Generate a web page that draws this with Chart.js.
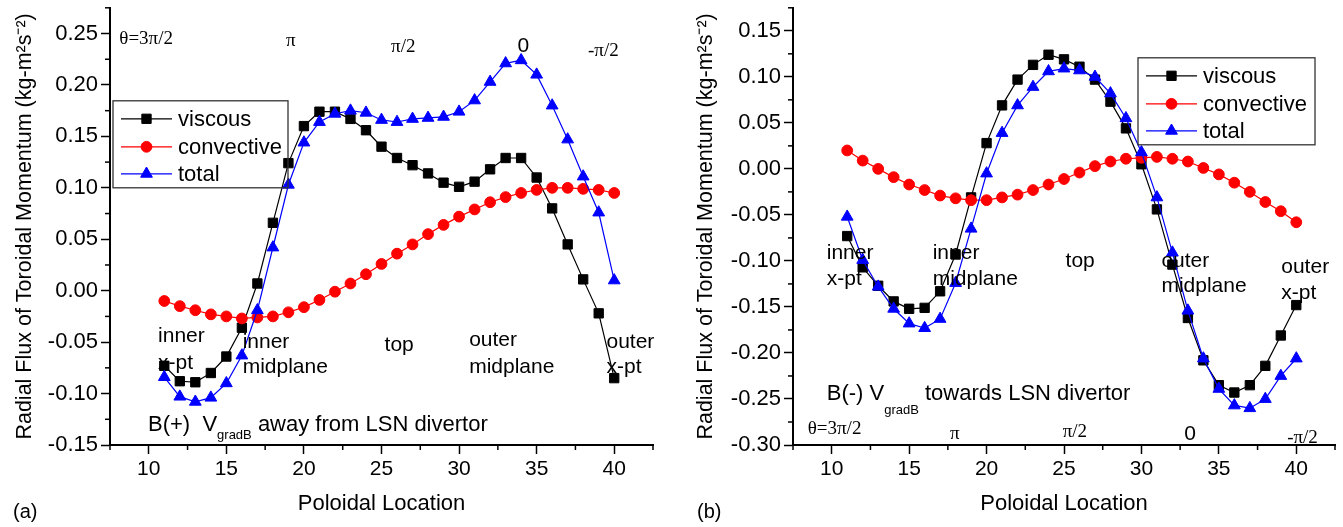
<!DOCTYPE html>
<html>
<head>
<meta charset="utf-8">
<script src="https://cdn.jsdelivr.net/npm/chart.js"></script>
<style>
  html, body { margin: 0; padding: 0; background: #fff; }
  body { width: 1343px; height: 527px; position: relative; overflow: hidden; }
  canvas { position: absolute; top: 0; }
  #chartA { left: 0; }
  #chartB { left: 672px; }
</style>
</head>
<body>
<canvas id="chartA" width="672" height="527"></canvas>
<canvas id="chartB" width="671" height="527"></canvas>
<script>
// poloidal cell index (x)
const poloidal = [11, 12, 13, 14, 15, 16, 17, 18, 19, 20, 21, 22, 23, 24, 25,
                  26, 27, 28, 29, 30, 31, 32, 33, 34, 35, 36, 37, 38, 39, 40];

// (a) B(+)
const viscousA = [-0.073, -0.088, -0.089, -0.080, -0.064, -0.036, 0.007, 0.066, 0.124, 0.160,
                  0.174, 0.174, 0.167, 0.156, 0.140, 0.129, 0.122, 0.114, 0.105, 0.101,
                  0.106, 0.118, 0.129, 0.129, 0.110, 0.080, 0.045, 0.011, -0.022, -0.085];
const convectiveA = [-0.010, -0.015, -0.019, -0.023, -0.025, -0.027, -0.026, -0.025, -0.021, -0.016,
                     -0.009, -0.001, 0.007, 0.016, 0.026, 0.036, 0.045, 0.055, 0.064, 0.072,
                     0.079, 0.086, 0.091, 0.095, 0.098, 0.100, 0.100, 0.099, 0.098, 0.095];
const totalA = [-0.084, -0.103, -0.108, -0.104, -0.090, -0.063, -0.019, 0.042, 0.103, 0.144,
                0.164, 0.172, 0.175, 0.173, 0.166, 0.164, 0.167, 0.168, 0.169, 0.174,
                0.185, 0.203, 0.221, 0.224, 0.210, 0.180, 0.147, 0.111, 0.076, 0.010];

// (b) B(-)
const viscousB = [-0.073, -0.107, -0.127, -0.144, -0.152, -0.151, -0.133, -0.093, -0.031, 0.028,
                  0.069, 0.097, 0.113, 0.124, 0.119, 0.111, 0.097, 0.073, 0.044, 0.005,
                  -0.044, -0.104, -0.162, -0.208, -0.235, -0.243, -0.235, -0.214, -0.181, -0.148];
const convectiveB = [0.020, 0.009, 0.000, -0.009, -0.017, -0.023, -0.029, -0.032, -0.034, -0.034,
                     -0.031, -0.028, -0.023, -0.017, -0.011, -0.004, 0.003, 0.008, 0.011, 0.012,
                     0.013, 0.011, 0.008, 0.001, -0.006, -0.015, -0.025, -0.036, -0.046, -0.058];
const totalB = [-0.052, -0.099, -0.128, -0.152, -0.168, -0.173, -0.163, -0.124, -0.065, -0.005,
                0.039, 0.069, 0.089, 0.106, 0.109, 0.107, 0.100, 0.082, 0.055, 0.018,
                -0.031, -0.091, -0.154, -0.206, -0.239, -0.257, -0.260, -0.250, -0.225, -0.206];

// tick labels
const xTicks = [10, 15, 20, 25, 30, 35, 40];
const yTicksA = [-0.15, -0.10, -0.05, 0.00, 0.05, 0.10, 0.15, 0.20, 0.25];
const yTicksB = [-0.30, -0.25, -0.20, -0.15, -0.10, -0.05, 0.00, 0.05, 0.10, 0.15];

const SANS = '"Liberation Sans", Arial, sans-serif';
const SERIF = '"Liberation Serif", "Times New Roman", serif';
Chart.defaults.font.family = SANS;
Chart.defaults.color = '#000';

function points(ys) {
    return poloidal.map((x, i) => ({ x: x, y: ys[i] }));
}

function makeDatasets(v, c, t) {
    return [
        { label: 'viscous', data: points(v), borderColor: '#000', backgroundColor: '#000',
          pointStyle: 'rect', pointRadius: 6.6, pointBorderWidth: 1, borderWidth: 1.2, order: 3 },
        { label: 'convective', data: points(c), borderColor: '#ff0000', backgroundColor: '#ff0000',
          pointStyle: 'circle', pointRadius: 5.4, pointBorderWidth: 1, borderWidth: 1.2, order: 2 },
        { label: 'total', data: points(t), borderColor: '#0000ff', backgroundColor: '#0000ff',
          pointStyle: 'triangle', pointRadius: 6.8, pointBorderWidth: 1, borderWidth: 1.2, order: 1 }
    ];
}

function makeScales(yMin, yMax, yTicks, yWidth, yTitlePad) {
    return {
        x: {
            type: 'linear', min: 7.5, max: 42.5,
            afterBuildTicks: s => { s.ticks = xTicks.map(v => ({ value: v })); },
            afterFit: s => { s.height = 82; s.paddingLeft = 0; s.paddingRight = 0; },
            grid: { drawOnChartArea: false, drawTicks: true, tickLength: 9, tickWidth: 1.5, color: '#000' },
            border: { display: true, color: '#000', width: 2 },
            ticks: { font: { size: 21 }, padding: 3, color: '#000', maxRotation: 0, autoSkip: false,
                     callback: v => String(v) },
            title: { display: true, text: 'Poloidal Location', font: { size: 22 }, color: '#000',
                     padding: { top: 0, bottom: 10 } }
        },
        y: {
            type: 'linear', min: yMin, max: yMax,
            afterBuildTicks: s => { s.ticks = yTicks.map(v => ({ value: v })); },
            afterFit: s => { s.width = yWidth; s.paddingTop = 0; s.paddingBottom = 0; },
            grid: { drawOnChartArea: false, drawTicks: true, tickLength: 9, tickWidth: 1.5, color: '#000' },
            border: { display: true, color: '#000', width: 2 },
            ticks: { font: { size: 22 }, padding: 3, color: '#000', autoSkip: false,
                     callback: v => v.toFixed(2) },
            title: { display: true, text: 'Radial Flux of Toroidal Momentum (kg-m\u00b2s\u207b\u00b2)',
                     font: { size: 21.5 }, color: '#000', padding: { top: yTitlePad, bottom: 0 } }
        }
    };
}

function minorTicks(major, lo, hi) {
    const step = major[1] - major[0];
    const out = [major[0] - step / 2].concat(major.map(v => v + step / 2));
    return out.filter(v => v >= lo - 1e-9 && v <= hi + 1e-9);
}

function drawMarker(ctx, style, x, y, r, color) {
    ctx.fillStyle = color;
    ctx.strokeStyle = color;
    ctx.lineWidth = 1;
    if (Chart.helpers && Chart.helpers.drawPoint) {
        Chart.helpers.drawPoint(ctx, { pointStyle: style, radius: r, borderWidth: 1, rotation: 0 }, x, y);
        return;
    }
    ctx.beginPath();
    if (style === 'rect') {
        const s = r * Math.SQRT1_2;
        ctx.rect(x - s, y - s, 2 * s, 2 * s);
    } else if (style === 'circle') {
        ctx.arc(x, y, r, 0, Math.PI * 2);
    } else {
        ctx.moveTo(x, y - r);
        ctx.lineTo(x + r * 0.866, y + r / 2);
        ctx.lineTo(x - r * 0.866, y + r / 2);
        ctx.closePath();
    }
    ctx.fill();
    ctx.stroke();
}

// texts, minor ticks and legend drawn over the chart
function overlay(cfg) {
    return {
        id: 'overlay' + cfg.name,
        afterDraw(chart) {
            const ctx = chart.ctx;
            const xs = chart.scales.x, ys = chart.scales.y;
            const area = chart.chartArea;
            ctx.save();

            // minor ticks
            ctx.strokeStyle = '#000';
            ctx.lineWidth = 1.5;
            minorTicks(xTicks, xs.min, xs.max).forEach(v => {
                const px = xs.getPixelForValue(v);
                ctx.beginPath(); ctx.moveTo(px, area.bottom); ctx.lineTo(px, area.bottom + 5); ctx.stroke();
            });
            minorTicks(cfg.yTicks, ys.min, ys.max).forEach(v => {
                const py = ys.getPixelForValue(v);
                ctx.beginPath(); ctx.moveTo(area.left, py); ctx.lineTo(area.left - 5, py); ctx.stroke();
            });

            // annotations
            ctx.textBaseline = 'middle';
            ctx.fillStyle = '#000';
            cfg.labels.forEach(l => {
                ctx.font = (l.size || 21) + 'px ' + (l.serif ? SERIF : SANS);
                ctx.textAlign = l.align || 'left';
                ctx.fillText(l.text, xs.getPixelForValue(l.x), ys.getPixelForValue(l.y));
            });

            // field direction caption with subscript
            const cap = cfg.caption;
            let cx = xs.getPixelForValue(cap.x);
            const cy = ys.getPixelForValue(cap.y);
            ctx.textAlign = 'left';
            ctx.textBaseline = 'alphabetic';
            cap.parts.forEach(p => {
                ctx.font = p.size + 'px ' + SANS;
                ctx.fillText(p.text, cx, cy + (p.dy || 0));
                cx += ctx.measureText(p.text).width;
            });

            // legend
            const L = cfg.legend;
            const bx = L.right !== undefined ? area.right - L.right - L.w : area.left + L.left;
            const by = area.top + L.top;
            ctx.lineWidth = 1.3;
            ctx.strokeStyle = '#333';
            ctx.strokeRect(bx, by, L.w, L.h);
            chart.data.datasets.forEach((ds, i) => {
                const ry = by + L.rows[i];
                ctx.strokeStyle = ds.borderColor;
                ctx.lineWidth = 1.2;
                ctx.beginPath(); ctx.moveTo(bx + 8, ry); ctx.lineTo(bx + 59, ry); ctx.stroke();
                drawMarker(ctx, ds.pointStyle, bx + 33.5, ry, ds.pointRadius, ds.backgroundColor);
                ctx.fillStyle = '#000';
                ctx.font = '22px ' + SANS;
                ctx.textAlign = 'left';
                ctx.textBaseline = 'middle';
                ctx.fillText(ds.label, bx + 65, ry + 1);
            });

            // panel letter
            ctx.font = '20px ' + SANS;
            ctx.fillStyle = '#000';
            ctx.textAlign = 'left';
            ctx.textBaseline = 'middle';
            ctx.fillText(cfg.letter, cfg.letterX, 512);

            ctx.restore();
        }
    };
}

const labelsA = [
    { text: '\u03b8=3\u03c0/2', x: 8.1, y: 0.2445, serif: true, size: 19 },
    { text: '\u03c0', x: 19.15, y: 0.2425, serif: true, size: 19, align: 'center' },
    { text: '\u03c0/2', x: 26.4, y: 0.237, serif: true, size: 19, align: 'center' },
    { text: '0', x: 34.15, y: 0.238, size: 21, align: 'center' },
    { text: '-\u03c0/2', x: 39.3, y: 0.233, serif: true, size: 19, align: 'center' },
    { text: 'inner', x: 10.6, y: -0.0445 },
    { text: 'x-pt', x: 10.6, y: -0.0705 },
    { text: 'inner', x: 16.05, y: -0.050 },
    { text: 'midplane', x: 16.05, y: -0.0745 },
    { text: 'top', x: 25.2, y: -0.053 },
    { text: 'outer', x: 30.65, y: -0.048 },
    { text: 'midplane', x: 30.65, y: -0.0745 },
    { text: 'outer', x: 39.5, y: -0.050 },
    { text: 'x-pt', x: 39.5, y: -0.0745 }
];

const labelsB = [
    { text: '\u03b8=3\u03c0/2', x: 8.45, y: -0.2826, serif: true, size: 19 },
    { text: '\u03c0', x: 17.95, y: -0.288, serif: true, size: 19, align: 'center' },
    { text: '\u03c0/2', x: 25.7, y: -0.286, serif: true, size: 19, align: 'center' },
    { text: '0', x: 33.15, y: -0.288, size: 21, align: 'center' },
    { text: '-\u03c0/2', x: 40.4, y: -0.2924, serif: true, size: 19, align: 'center' },
    { text: 'inner', x: 9.68, y: -0.0913 },
    { text: 'x-pt', x: 9.68, y: -0.1196 },
    { text: 'inner', x: 16.52, y: -0.0913 },
    { text: 'midplane', x: 16.52, y: -0.1196 },
    { text: 'top', x: 25.1, y: -0.100 },
    { text: 'outer', x: 31.29, y: -0.100 },
    { text: 'midplane', x: 31.29, y: -0.127 },
    { text: 'outer', x: 39.03, y: -0.1065 },
    { text: 'x-pt', x: 39.03, y: -0.135 }
];

new Chart(document.getElementById('chartA'), {
    type: 'line',
    data: { datasets: makeDatasets(viscousA, convectiveA, totalA) },
    options: {
        responsive: false, animation: false, devicePixelRatio: 1,
        layout: { padding: { left: 0, top: 7, right: 19, bottom: 0 } },
        plugins: { legend: { display: false }, tooltip: { enabled: false } },
        scales: makeScales(-0.15, 0.275, yTicksA, 110, 12)
    },
    plugins: [overlay({
        name: 'A', yTicks: yTicksA, labels: labelsA, letter: '(a)', letterX: 13,
        caption: { x: 9.95, y: -0.1365, parts: [
            { text: 'B(+)  V', size: 22 },
            { text: 'gradB', size: 13, dy: 8 },
            { text: ' away from LSN divertor', size: 22 }
        ] },
        legend: { left: 3, top: 93, w: 175, h: 87, rows: [18, 46, 73] }
    })]
});

new Chart(document.getElementById('chartB'), {
    type: 'line',
    data: { datasets: makeDatasets(viscousB, convectiveB, totalB) },
    options: {
        responsive: false, animation: false, devicePixelRatio: 1,
        layout: { padding: { left: 0, top: 7, right: 8, bottom: 0 } },
        plugins: { legend: { display: false }, tooltip: { enabled: false } },
        scales: makeScales(-0.30, 0.175, yTicksB, 121, 21)
    },
    plugins: [overlay({
        name: 'B', yTicks: yTicksB, labels: labelsB, letter: '(b)', letterX: 25,
        caption: { x: 9.68, y: -0.2511, parts: [
            { text: 'B(-) V', size: 22 },
            { text: 'gradB', size: 13, dy: 14 },
            { text: ' towards LSN divertor', size: 22 }
        ] },
        legend: { right: 20, top: 50, w: 177, h: 87, rows: [18, 46, 73] }
    })]
});
</script>
</body>
</html>
